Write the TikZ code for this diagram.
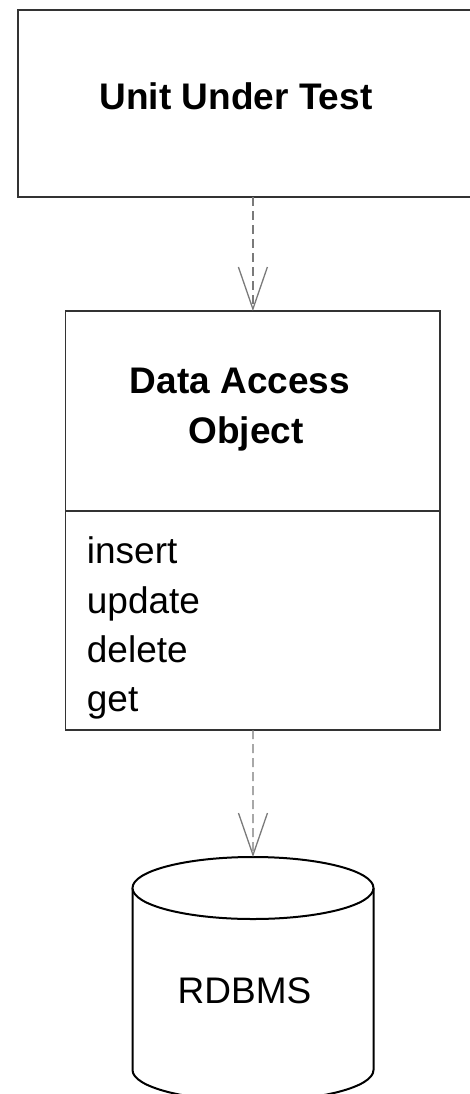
\documentclass[tikz,border=0pt]{standalone}
\usepackage{fontspec}
\setmainfont{Liberation Sans}
\usetikzlibrary{arrows.meta}
\definecolor{boxline}{HTML}{333333}
\definecolor{depline}{HTML}{7A7A7A}
\tikzset{
  classbox/.style={draw=boxline, line width=1.3pt, inner sep=0pt, outer sep=0pt, fill=white},
  titletext/.style={font=\fontsize{37}{50}\selectfont\bfseries, inner sep=0pt, anchor=base},
  membertext/.style={font=\fontsize{37}{50}\selectfont, inner sep=0pt, anchor=base west},
  dbtext/.style={font=\fontsize{37}{50}\selectfont, inner sep=0pt, anchor=base},
  dep/.style={draw=depline, line width=1.3pt, dash pattern=on 9pt off 5pt,
    -{Straight Barb[length=42pt, width=29pt]}},
  dbline/.style={draw=black, line width=2pt, fill=white}
}
\begin{document}
\begin{tikzpicture}[x=1pt, y=-1pt]
  \useasboundingbox (0,0) rectangle (470,1094);
  \clip (0,0) rectangle (470,1094);

  % unit under test
  \node[classbox, minimum width=472pt, minimum height=187pt] (uut) at (254,103.5) {};
  \node[titletext] (uuttext) at (236,110) {Unit Under Test};

  % data access object class box
  \node[classbox, minimum width=374.3pt, minimum height=419pt] (dao) at (252.9,520.5) {};
  \draw[boxline, line width=1.3pt] (dao.west |- 0,511) -- (dao.east |- 0,511);
  \node[titletext] (daotitle1) at (240,393.3) {Data Access};
  \node[titletext] (daotitle2) at (246,443.3) {Object};
  \node[membertext] (minsert) at (86.7,563.3) {insert};
  \node[membertext] (mupdate) at (86.7,613) {update};
  \node[membertext] (mdelete) at (86.7,662) {delete};
  \node[membertext] (mget)    at (86.7,711) {get};

  % database cylinder
  \path[dbline] (132.5,888) -- (132.5,1070)
    arc[start angle=180, end angle=0, x radius=120.5, y radius=31]
    -- (373.5,888);
  \draw[dbline] (253,888) ellipse[x radius=120.5, y radius=31];
  \coordinate (dbtop) at (253,857);
  \node[dbtext] (rdbms) at (244.5,1003.3) {RDBMS};

  % dependencies
  \draw[dep] (dao.north |- uut.south) -- (dao.north);
  \draw[dep] (dao.south) -- (dbtop);
\end{tikzpicture}
\end{document}
